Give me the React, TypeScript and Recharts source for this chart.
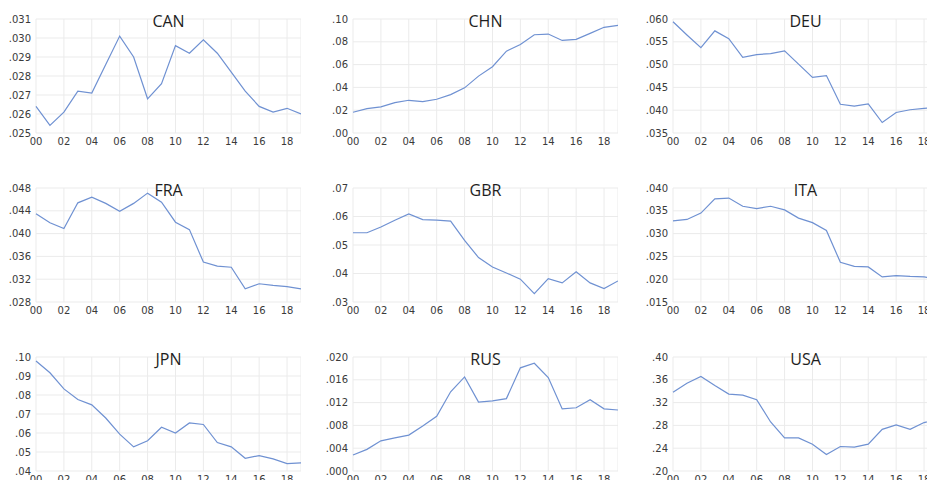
import { LineChart, Line, XAxis, YAxis, CartesianGrid } from 'recharts';

// years 2000-2019 shown as two-digit labels
const years = ['00', '01', '02', '03', '04', '05', '06', '07', '08', '09',
  '10', '11', '12', '13', '14', '15', '16', '17', '18', '19'];
const yearTicks = ['00', '02', '04', '06', '08', '10', '12', '14', '16', '18'];

const can = [0.0264, 0.0254, 0.0261, 0.0272, 0.0271, 0.0286, 0.0301, 0.0290, 0.0268, 0.0276,
  0.0296, 0.0292, 0.0299, 0.0292, 0.0282, 0.0272, 0.0264, 0.0261, 0.0263, 0.0260];
const chn = [0.0182, 0.0214, 0.0229, 0.0267, 0.0287, 0.0276, 0.0296, 0.0337, 0.0396, 0.0499,
  0.0581, 0.0718, 0.0777, 0.0862, 0.0868, 0.0812, 0.0821, 0.0874, 0.0927, 0.0944];
const deu = [0.0594, 0.0565, 0.0537, 0.0574, 0.0557, 0.0516, 0.0522, 0.0524, 0.0530, 0.0501,
  0.0472, 0.0476, 0.0413, 0.0409, 0.0414, 0.0373, 0.0395, 0.0401, 0.0404, 0.0406];
const fra = [0.0435, 0.0419, 0.0409, 0.0454, 0.0464, 0.0453, 0.0439, 0.0453, 0.0471, 0.0455,
  0.0420, 0.0407, 0.0350, 0.0343, 0.0341, 0.0303, 0.0312, 0.0309, 0.0307, 0.0303];
const gbr = [0.0543, 0.0543, 0.0563, 0.0587, 0.0609, 0.0589, 0.0587, 0.0584, 0.0516, 0.0456,
  0.0423, 0.0402, 0.0380, 0.0329, 0.0382, 0.0367, 0.0406, 0.0367, 0.0347, 0.0374];
const ita = [0.0328, 0.0331, 0.0345, 0.0376, 0.0378, 0.0360, 0.0355, 0.0360, 0.0352, 0.0334,
  0.0324, 0.0307, 0.0237, 0.0228, 0.0227, 0.0205, 0.0208, 0.0206, 0.0205, 0.0200];
const jpn = [0.0979, 0.0917, 0.0832, 0.0776, 0.0748, 0.0679, 0.0594, 0.0527, 0.0559, 0.0630,
  0.0600, 0.0653, 0.0645, 0.0550, 0.0527, 0.0467, 0.0481, 0.0464, 0.0439, 0.0443];
const rus = [0.0028, 0.0038, 0.0053, 0.0058, 0.0063, 0.0079, 0.0096, 0.0139, 0.0165, 0.0121,
  0.0123, 0.0127, 0.0181, 0.0189, 0.0164, 0.0109, 0.0111, 0.0125, 0.0109, 0.0107];
const usa = [0.338, 0.354, 0.366, 0.350, 0.335, 0.333, 0.325, 0.286, 0.258, 0.258,
  0.247, 0.229, 0.243, 0.242, 0.247, 0.273, 0.281, 0.273, 0.285, 0.291];

const canTicks = [0.025, 0.026, 0.027, 0.028, 0.029, 0.030, 0.031];
const chnTicks = [0.0, 0.02, 0.04, 0.06, 0.08, 0.10];
const deuTicks = [0.035, 0.040, 0.045, 0.050, 0.055, 0.060];
const fraTicks = [0.028, 0.032, 0.036, 0.040, 0.044, 0.048];
const gbrTicks = [0.03, 0.04, 0.05, 0.06, 0.07];
const itaTicks = [0.015, 0.020, 0.025, 0.030, 0.035, 0.040];
const jpnTicks = [0.04, 0.05, 0.06, 0.07, 0.08, 0.09, 0.10];
const rusTicks = [0.0, 0.004, 0.008, 0.012, 0.016, 0.020];
const usaTicks = [0.20, 0.24, 0.28, 0.32, 0.36, 0.40];

const panels = [
  { title: 'CAN', values: can, ticks: canTicks, digits: 3 },
  { title: 'CHN', values: chn, ticks: chnTicks, digits: 2 },
  { title: 'DEU', values: deu, ticks: deuTicks, digits: 3 },
  { title: 'FRA', values: fra, ticks: fraTicks, digits: 3 },
  { title: 'GBR', values: gbr, ticks: gbrTicks, digits: 2 },
  { title: 'ITA', values: ita, ticks: itaTicks, digits: 3 },
  { title: 'JPN', values: jpn, ticks: jpnTicks, digits: 2 },
  { title: 'RUS', values: rus, ticks: rusTicks, digits: 3 },
  { title: 'USA', values: usa, ticks: usaTicks, digits: 2 },
];

const plotLefts = [36, 353, 673];
const plotTops = [18.7, 187.7, 356.7];
const PLOT_W = 265;
const PLOT_H = 114;
const AXIS_W = 36;
const TOP_PAD = 8;

const tickStyle = { fill: '#3a3a3a', fontSize: 10, fontFamily: 'DejaVu Sans' };

function SmallPanel({ index }: { index: number }) {
  const p = panels[index];
  const left = plotLefts[index % 3];
  const top = plotTops[Math.floor(index / 3)];
  const data = years.map((y, i) => ({ year: y, v: p.values[i] }));
  const fmt = (v: number) => v.toFixed(p.digits).replace(/^0/, '');

  return (
    <>
      <div style={{ position: 'absolute', left: left - AXIS_W, top: top - TOP_PAD }}>
        <LineChart
          width={AXIS_W + PLOT_W}
          height={TOP_PAD + PLOT_H + 22}
          data={data}
          margin={{ top: TOP_PAD, right: 0, bottom: 0, left: 0 }}
        >
          <CartesianGrid stroke="#ebebeb" strokeWidth={1} />
          <XAxis
            dataKey="year"
            ticks={yearTicks}
            interval={0}
            axisLine={false}
            tickLine={false}
            tickSize={3}
            tickMargin={2}
            height={22}
            tick={tickStyle}
          />
          <YAxis
            type="number"
            domain={[p.ticks[0], p.ticks[p.ticks.length - 1]]}
            ticks={p.ticks}
            interval={0}
            width={AXIS_W}
            axisLine={false}
            tickLine={false}
            tickSize={3}
            tickMargin={2}
            tickFormatter={fmt}
            tick={tickStyle}
          />
          <Line
            type="linear"
            dataKey="v"
            stroke="#6f91d2"
            strokeWidth={1.2}
            dot={false}
            isAnimationActive={false}
          />
        </LineChart>
      </div>
      <div
        style={{
          position: 'absolute',
          left,
          width: PLOT_W,
          top: top - 8,
          lineHeight: '20px',
          textAlign: 'center',
          fontFamily: '"Open Sans", sans-serif',
          fontSize: 16,
          color: '#1e1e1e',
          pointerEvents: 'none',
        }}
      >
        {p.title}
      </div>
    </>
  );
}

export default function App() {
  return (
    <div
      style={{
        position: 'absolute',
        left: 0,
        top: 0,
        width: 927,
        height: 480,
        overflow: 'hidden',
        background: '#fff',
      }}
    >
      {panels.map((p, i) => (
        <SmallPanel key={p.title} index={i} />
      ))}
    </div>
  );
}
